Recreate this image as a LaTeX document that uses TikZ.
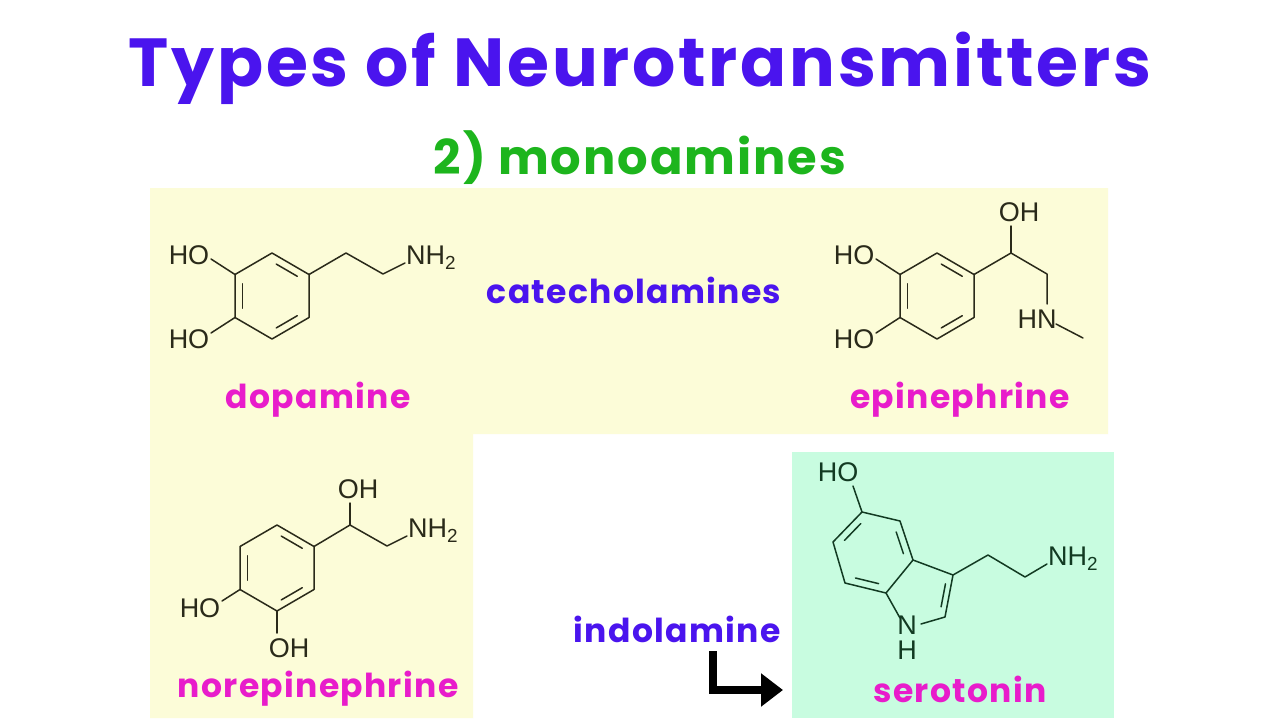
\documentclass[tikz,border=0pt]{standalone}
\usepackage{fontspec}
\setmainfont{Liberation Sans}
\newfontfamily\pop{Poppins}[UprightFont={* Bold},LetterSpace=4]
\usetikzlibrary{arrows.meta,calc}
\definecolor{ttl}{HTML}{4A14EE}
\definecolor{grn}{HTML}{1DB51D}
\definecolor{pnk}{HTML}{E81CCB}
\definecolor{ylw}{HTML}{FCFCD8}
\definecolor{mint}{HTML}{C8FCE0}
\definecolor{bnd}{HTML}{2A2A1A}
\definecolor{sbnd}{HTML}{123A22}
\tikzset{bond/.style={draw=bnd,line width=1.5pt,line cap=round,line join=round},
 ibond/.style={bond,shorten <=5pt,shorten >=5pt},
 atom/.style={font=\fontsize{27}{27}\selectfont,text=bnd,inner sep=0pt},
 mlabel/.style={font=\pop\fontsize{33}{33}\selectfont,text=pnk},
 clabel/.style={font=\pop\fontsize{33}{33}\selectfont,text=ttl}}
\newcommand{\hexat}[2]{% prefix, center
 \coordinate (#1c) at #2;
 \coordinate (#1T) at ($#2+(0,-43)$); \coordinate (#1UR) at ($#2+(37,-21.5)$);
 \coordinate (#1LR) at ($#2+(37,21.5)$); \coordinate (#1B) at ($#2+(0,43)$);
 \coordinate (#1LL) at ($#2+(-37,21.5)$); \coordinate (#1UL) at ($#2+(-37,-21.5)$);
 \draw[bond] (#1T)--(#1UR)--(#1LR)--(#1B)--(#1LL)--(#1UL)--cycle;}
\newcommand{\dbl}[3]{\draw[ibond] ($(#1)!0.2!(#3)$) -- ($(#2)!0.2!(#3)$);}
\begin{document}
\begin{tikzpicture}[x=1pt,y=-1pt]
\useasboundingbox (0,0) rectangle (1280,720);
\fill[white] (0,0) rectangle (1280,720);
\fill[ylw] (150,188) -- (1108,188) -- (1108,434) -- (473,434) -- (473,718) -- (150,718) -- cycle;
\fill[mint] (792,452) rectangle (1114,718);
\node[font=\pop\fontsize{68}{68}\selectfont,text=ttl] (title) at (640,68) {Types of Neurotransmitters};
\node[font=\pop\fontsize{48}{48}\selectfont,text=grn] (sub) at (640,158) {2) monoamines};
\node[clabel] (cat) at (634,290) {catecholamines};
\node[clabel] (ind) at (677,629) {indolamine};
\node[mlabel] (dop) at (318,400) {dopamine};
\node[mlabel] (epi) at (960,400) {epinephrine};
\node[mlabel] (nor) at (318,689) {norepinephrine};
\node[mlabel] (ser) at (960,689) {serotonin};
\coordinate (a1) at (713,651); \coordinate (a2) at (713,690); \coordinate (a3) at (783,690);
\draw[line width=8pt,-{Triangle[length=22pt,width=32pt]}] (a1) -- (a2) -- (a3);
% dopamine
\hexat{d}{(272,296)}
\dbl{dUL}{dLL}{dc}\dbl{dT}{dUR}{dc}\dbl{dLR}{dB}{dc}
\node[atom] (dho1) at (189,255) {HO};
\node[atom] (dho2) at (189,339) {HO};
\node[atom,anchor=west] (dnh) at (406,258) {NH\textsubscript{2}};
\coordinate (d1) at (346,253); \coordinate (d2) at (383,274);
\draw[bond] (211,259) -- (dUL);
\draw[bond] (211,333) -- (dLL);
\draw[bond] (dUR) -- (d1) -- (d2) -- (405,263);
% epinephrine
\hexat{e}{(937,296)}
\dbl{eUL}{eLL}{ec}\dbl{eT}{eUR}{ec}\dbl{eLR}{eB}{ec}
\node[atom] (eho1) at (854,255) {HO};
\node[atom] (eho2) at (854,339) {HO};
\node[atom] (eoh) at (1019,212) {OH};
\node[atom] (ehn) at (1037,319) {HN};
\coordinate (e1) at (1011,253); \coordinate (e2) at (1047,274); \coordinate (e3) at (1083,338);
\draw[bond] (876,259) -- (eUL);
\draw[bond] (876,333) -- (eLL);
\draw[bond] (eUR) -- (e1) -- (e2) -- (1047,304);
\draw[bond] (e1) -- (1011,226);
\draw[bond] (1056,324) -- (e3);
% norepinephrine
\hexat{n}{(277,568)}
\dbl{nUL}{nLL}{nc}\dbl{nT}{nUR}{nc}\dbl{nLR}{nB}{nc}
\node[atom] (nho) at (200,608) {HO};
\node[atom] (noh) at (289,648) {OH};
\node[atom] (noh2) at (358,489) {OH};
\node[atom,anchor=west] (nnh) at (408,531) {NH\textsubscript{2}};
\coordinate (n1) at (350,525); \coordinate (n2) at (387,546);
\draw[bond] (222,601) -- (nLL);
\draw[bond] (nB) -- (277,633);
\draw[bond] (nUR) -- (n1) -- (n2) -- (407,536);
\draw[bond] (n1) -- (350,503);
% serotonin
\begin{scope}[bond/.append style={draw=sbnd}]
\coordinate (s1) at (862,512); \coordinate (s2) at (900,521); \coordinate (s3) at (913,560);
\coordinate (s4) at (886,593); \coordinate (s5) at (845,583); \coordinate (s6) at (833,542);
\coordinate (sc) at (873,552);
\coordinate (s7) at (953,575); \coordinate (s8) at (945,617); \coordinate (sc5) at (923,593);
\draw[draw=sbnd,line width=1.5pt,line join=round] (s1)--(s2)--(s3)--(s4)--(s5)--(s6)--cycle;
\draw[bond] (s3) -- (s7) -- (s8) -- (921,624);
\draw[bond] (s4) -- (900,618);
\draw[ibond,draw=sbnd] ($(s1)!0.2!(sc)$) -- ($(s6)!0.2!(sc)$);
\draw[ibond,draw=sbnd] ($(s2)!0.2!(sc)$) -- ($(s3)!0.2!(sc)$);
\draw[ibond,draw=sbnd] ($(s4)!0.2!(sc)$) -- ($(s5)!0.2!(sc)$);
\draw[ibond,draw=sbnd] ($(s7)!0.22!(sc5)$) -- ($(s8)!0.22!(sc5)$);
\node[atom,text=sbnd] (sho) at (838,472) {HO};
\node[atom,text=sbnd] (sn) at (907,625) {N};
\node[atom,text=sbnd] (sh) at (907,650) {H};
\node[atom,text=sbnd,anchor=west] (snh) at (1048,559) {NH\textsubscript{2}};
\coordinate (s9) at (988,555); \coordinate (s10) at (1025,577);
\draw[bond] (s1) -- (853,486);
\draw[bond] (s7) -- (s9) -- (s10) -- (1047,564);
\end{scope}
\end{tikzpicture}
\end{document}
